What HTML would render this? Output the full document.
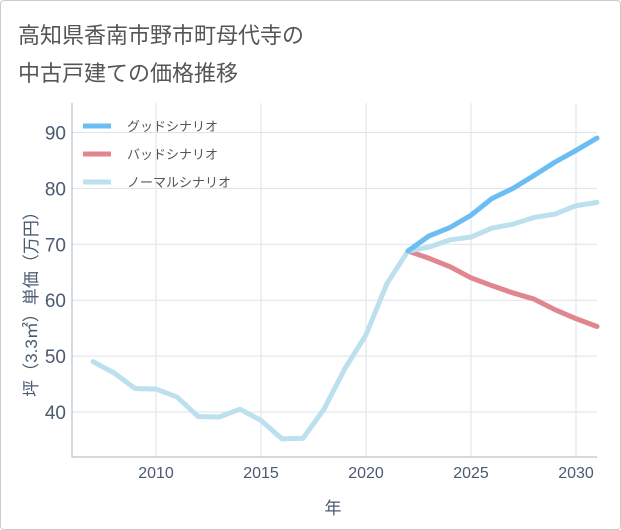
<!DOCTYPE html>
<html><head><meta charset="utf-8"><style>
body{margin:0;background:#fff;}
#card{position:absolute;left:0;top:0;width:619px;height:528px;border:1px solid #ccc;border-radius:4px;background:#fff;}
.t{position:absolute;left:18px;font:22px "Liberation Sans","Noto Sans CJK JP",sans-serif;color:#555;}
svg text{font-family:"Liberation Sans","Noto Sans CJK JP",sans-serif;}
</style></head><body>
<div id="card"></div>
<div class="t" style="top:18px">高知県香南市野市町母代寺の</div>
<div class="t" style="top:56px">中古戸建ての価格推移</div>
<svg id="chart" width="621" height="530" style="position:absolute;left:0;top:0"></svg>
<script>
const years=[2007,2008,2009,2010,2011,2012,2013,2014,2015,2016,2017,2018,2019,2020,2021,2022,2023,2024,2025,2026,2027,2028,2029,2030,2031];
const normalVals=[49,47,44.2,44.1,42.7,39.2,39.1,40.5,38.5,35.2,35.3,40.5,47.8,53.8,63,68.8,69.5,70.8,71.3,72.9,73.6,74.8,75.4,76.9,77.5];
const futureYears=[2022,2023,2024,2025,2026,2027,2028,2029,2030,2031];
const goodVals=[68.8,71.5,73,75.2,78.2,80,82.3,84.7,86.8,89];
const badVals=[68.8,67.5,66,64,62.6,61.3,60.2,58.3,56.7,55.3];
const xTicks=[2010,2015,2020,2025,2030];
const yTicks=[40,50,60,70,80,90];
const legendLabels=["グッドシナリオ","バッドシナリオ","ノーマルシナリオ"];
const colors=["#6bbdf2","#e0868e","#bde0ef"];
const L=72,R=597,T=103,B=457;
const x=y=>156+(y-2010)*21;
const yv=v=>412-(v-40)*5.59;
const svg=document.getElementById('chart');
const NS='http://www.w3.org/2000/svg';
function mk(t,a){const e=document.createElementNS(NS,t);for(const k in a)e.setAttribute(k,a[k]);svg.appendChild(e);return e;}
xTicks.forEach(t=>{const l=mk('line',{x1:x(t),x2:x(t),y1:T,y2:B,stroke:'#dde3ea'});


const tx=mk('text',{x:x(t),y:478,'text-anchor':'middle','font-size':16,fill:'#4a5a70'});tx.textContent=t;

});
yTicks.forEach(t=>{const l=mk('line',{x1:L,x2:R,y1:yv(t),y2:yv(t),stroke:'#dde3ea'});


const tx=mk('text',{x:66,y:yv(t)+7,'text-anchor':'end','font-size':19,fill:'#4a5a70'});tx.textContent=t;

});
const ax=mk('path',{d:`M${L} ${T}V${B}H${R}`,fill:'none',stroke:'#aab4c0'});


function line(xs,vs,c,name){const p=mk('polyline',{points:xs.map((y,i)=>x(y)+','+yv(vs[i])).join(' '),fill:'none',stroke:c,'stroke-width':5,'stroke-linejoin':'round','stroke-linecap':'round'});

}
line(futureYears,badVals,colors[1],'bad-scenario-line');
line(years,normalVals,colors[2],'normal-scenario-line');
line(futureYears,goodVals,colors[0],'good-scenario-line');
legendLabels.forEach((s,i)=>{const yy=126+i*28;
const l=mk('line',{x1:83,x2:111,y1:yy,y2:yy,stroke:colors[i],'stroke-width':5});


const t=mk('text',{x:127,y:yy+5,'font-size':13,fill:'#555'});t.textContent=s;

});
const yt=mk('text',{x:0,y:0,'font-size':17,fill:'#4a5a70','text-anchor':'middle',transform:'translate(37,300) rotate(-90)'});yt.textContent='坪（3.3㎡）単価（万円）';


const xt=mk('text',{x:333,y:514,'font-size':17,fill:'#4a5a70','text-anchor':'middle'});xt.textContent='年';


</script>
</body></html>
